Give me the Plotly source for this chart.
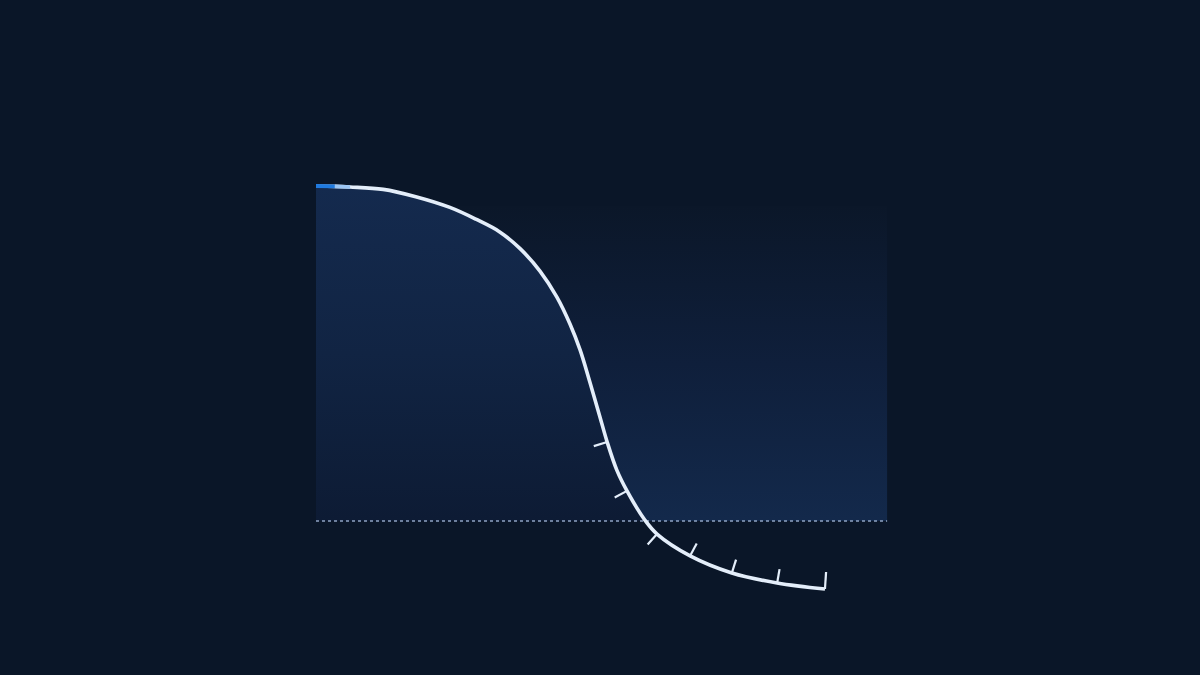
import numpy as np
import plotly.graph_objects as go

# curve (x: 0..10 along the run, y: 1 = start level, 0 = dotted baseline)
curve_x = [0.0, 0.37, 0.67, 1.32, 1.96, 2.63, 3.14, 3.61, 4.01, 4.40, 4.73, 4.99,
           5.19, 5.38, 5.58, 5.72, 5.91, 6.11, 6.46, 6.70, 7.35, 8.17, 9.06, 10.0]
curve_y = [1.000, 0.999, 0.997, 0.990, 0.968, 0.936, 0.901, 0.863, 0.813, 0.746, 0.669, 0.588,
           0.510, 0.415, 0.310, 0.236, 0.152, 0.090, 0.003, -0.039, -0.104, -0.155, -0.185, -0.203]

# tick marks along the lower part of the curve
tick_x = [5.72, 6.11, 6.70, 7.35, 8.17, 9.06, 10.0]
tick_side = [-1, -1, -1, 1, 1, 1, 1]

band_right = 11.22   # right edge of the shaded band
band_top = 0.94      # fuzzy top of the shaded band

# px per unit (page is 1200x675, margins 0)
PX_X = 50.9
PX_Y = 335.0
x_range = [-316 / PX_X, (1200 - 316) / PX_X]
y_range = [-(675 - 521) / PX_Y, 521 / PX_Y]

BG = "#0a1628"
LINE = "#e4eefa"

fig = go.Figure()

# shaded band on the right, fading out to the top
fig.add_trace(go.Scatter(
    x=[0, band_right, band_right, 0, 0], y=[0, 0, band_top, band_top, 0],
    mode="lines", line=dict(width=0), fill="toself",
    fillgradient=dict(type="vertical", start=0, stop=band_top,
                      colorscale=[[0, "#13294b"], [0.5, "#0f1f3b"], [1, "#0b1729"]]),
    hoverinfo="skip"))

# area under the curve down to the baseline
cx = np.array(curve_x)
cy = np.array(curve_y)
mask = cy >= 0
fig.add_trace(go.Scatter(
    x=cx[mask], y=cy[mask], mode="lines",
    line=dict(width=0, shape="spline", smoothing=1.0, simplify=False),
    fill="tozeroy",
    fillgradient=dict(type="vertical", start=0, stop=1.0,
                      colorscale=[[0, "#0d1b34"], [0.5, "#112443"], [1, "#142a4e"]]),
    hoverinfo="skip"))

# dotted baseline
fig.add_trace(go.Scatter(
    x=[0, band_right], y=[0, 0], mode="lines",
    line=dict(color="#8ea3c2", width=1.6, dash="dot"), hoverinfo="skip"))

# ticks: short strokes perpendicular to the curve
tx, ty = [], []
for xv, side in zip(tick_x, tick_side):
    yv = np.interp(xv, cx, cy)
    h = 0.08
    dxp = 2 * h * PX_X
    dyp = -(np.interp(xv + h, cx, cy) - np.interp(xv - h, cx, cy)) * PX_Y
    n = np.hypot(dxp, dyp)
    # normal in pixel space (screen y down)
    nx, ny = dyp / n, -dxp / n
    if side < 0:
        nx, ny = -nx, -ny
    length = 17 if xv == tick_x[-1] else 14
    tx += [xv, xv + nx * length / PX_X, None]
    ty += [yv, yv - ny * length / PX_Y, None]
fig.add_trace(go.Scatter(x=tx, y=ty, mode="lines",
                         line=dict(color=LINE, width=2.2), hoverinfo="skip"))

# the curve itself
fig.add_trace(go.Scatter(x=curve_x, y=curve_y, mode="lines",
                         line=dict(color=LINE, width=3.6, shape="spline", smoothing=1.0,
                                   simplify=False),
                         hoverinfo="skip"))
# blue start of the line fading into white
fig.add_trace(go.Scatter(x=curve_x[1:3], y=curve_y[1:3], mode="lines",
                         line=dict(color="#9cc6f4", width=3.6), hoverinfo="skip"))
fig.add_trace(go.Scatter(x=curve_x[:2], y=curve_y[:2], mode="lines",
                         line=dict(color="#1f7ae0", width=3.8), hoverinfo="skip"))

fig.update_layout(
    width=1200, height=675,
    margin=dict(l=0, r=0, t=0, b=0),
    paper_bgcolor=BG, plot_bgcolor=BG,
    showlegend=False, hovermode=False,
    xaxis=dict(range=x_range, visible=False, fixedrange=True),
    yaxis=dict(range=y_range, visible=False, fixedrange=True),
)

fig.write_html("out.html", config={"displayModeBar": False},
               post_script="document.body.style.margin='0';document.body.style.background='%s';" % BG)
